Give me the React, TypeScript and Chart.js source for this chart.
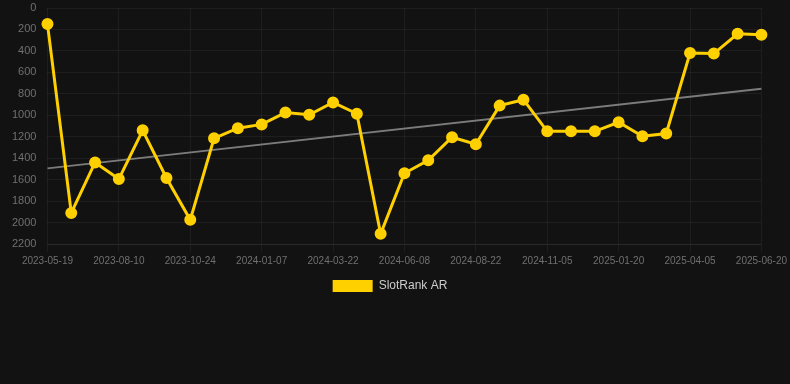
import React, { useEffect, useRef } from "react";
import { Chart, registerables } from "chart.js";

Chart.register(...registerables);

const labels: string[] = [
  "2023-05-19", "2023-06-16", "2023-07-13", "2023-08-10", "2023-09-03", "2023-09-29",
  "2023-10-24", "2023-11-19", "2023-12-13", "2024-01-07", "2024-02-01", "2024-02-26",
  "2024-03-22", "2024-04-16", "2024-05-13", "2024-06-08", "2024-07-04", "2024-07-28",
  "2024-08-22", "2024-09-16", "2024-10-11", "2024-11-05", "2024-11-30", "2024-12-26",
  "2025-01-20", "2025-02-14", "2025-03-11", "2025-04-05", "2025-04-29", "2025-05-25",
  "2025-06-20",
];

const slotRankAR: number[] = [
  150, 1910, 1440, 1595, 1140, 1585, 1975, 1215, 1120, 1085, 975, 995,
  880, 985, 2105, 1540, 1420, 1205, 1270, 910, 855, 1150, 1150, 1150,
  1065, 1195, 1170, 420, 425, 240, 250,
];

const trendStart = 1495;
const trendEnd = 752;

const yTicks = { min: 0, max: 2200, step: 200 };

const FONT = "Arial, 'Liberation Sans', sans-serif";
const GOLD = "#ffd000";

export default function App() {
  const ref = useRef<HTMLCanvasElement>(null);
  useEffect(() => {
    document.body.style.margin = "0";
    document.body.style.background = "#121212";
    const trend: (number | null)[] = labels.map((_, i) =>
      i === 0 ? trendStart : i === labels.length - 1 ? trendEnd : null
    );
    const chart = new Chart(ref.current!, {
      type: "line",
      data: {
        labels,
        datasets: [
          {
            label: "SlotRank AR",
            data: slotRankAR,
            borderColor: GOLD,
            backgroundColor: GOLD,
            borderWidth: 3,
            pointRadius: 4.5,
            pointHoverRadius: 5,
            pointBackgroundColor: GOLD,
            pointBorderColor: GOLD,
            tension: 0,
          },
          {
            label: "trend",
            data: trend,
            borderColor: "rgba(150,150,150,0.8)",
            backgroundColor: "rgba(150,150,150,0.8)",
            borderWidth: 2,
            pointRadius: 0,
            spanGaps: true,
          },
        ],
      },
      options: {
        animation: false,
        responsive: false,
        maintainAspectRatio: false,
        layout: { padding: { left: 12, right: 22, top: 0, bottom: 0 } },
        plugins: {
          legend: {
            position: "bottom",
            labels: {
              color: "#cccccc",
              boxWidth: 40,
              boxHeight: 12,
              font: { family: FONT, size: 12 },
              generateLabels: (c) =>
                Chart.defaults.plugins.legend.labels
                  .generateLabels(c)
                  .filter((it) => it.text !== "trend")
                  .map((it) => ({ ...it, lineWidth: 0 })),
            },
          },
          tooltip: { enabled: false },
        },
        scales: {
          x: {
            grid: { color: "rgba(255,255,255,0.05)", tickColor: "rgba(255,255,255,0.05)" },
            border: { color: "rgba(255,255,255,0.05)" },
            ticks: {
              color: "#707070",
              maxRotation: 0,
              autoSkip: true,
              font: { family: FONT, size: 10 },
            },
          },
          y: {
            reverse: true,
            min: yTicks.min,
            max: yTicks.max,
            grid: {
              color: "rgba(255,255,255,0.05)",
              tickColor: "rgba(255,255,255,0.0)",
              tickLength: 11,
            },
            border: { display: false },
            ticks: {
              stepSize: yTicks.step,
              padding: 0,
              color: "#707070",
              font: { family: FONT, size: 11 },
              callback: (v) => String(v),
            },
          },
        },
      },
    });
    return () => chart.destroy();
  }, []);
  return (
    <div style={{ width: 790, height: 384, background: "#121212" }}>
      <canvas ref={ref} width={790} height={302} style={{ display: "block" }} />
    </div>
  );
}
